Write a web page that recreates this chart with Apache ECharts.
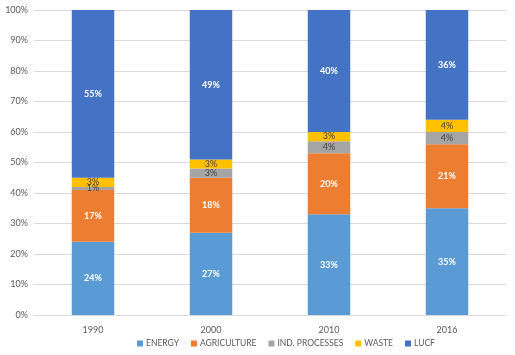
<!DOCTYPE html>
<html><head><meta charset="utf-8">
<script src="https://cdn.jsdelivr.net/npm/echarts@6/dist/echarts.min.js"></script>
<style>html,body{margin:0;padding:0;background:#fff}#c{width:515px;height:355px}</style>
</head><body><div id="c"></div>
<script>
var categories = ['1990', '2000', '2010', '2016'];
var energy = [24, 27, 33, 35];
var agriculture = [17, 18, 20, 21];
var indProcesses = [1, 3, 4, 4];
var waste = [3, 3, 3, 4];
var lucf = [55, 49, 40, 36];
var yTicks = [0, 10, 20, 30, 40, 50, 60, 70, 80, 90, 100];

var font = 'Lato, "Open Sans", sans-serif';
function mk(name, data, color, labelColor, bold) {
  return {
    name: name, type: 'bar', stack: 's', data: data, barWidth: '36%',
    itemStyle: {color: color},
    label: {show: true, position: 'inside', formatter: '{c}%', color: labelColor,
      fontSize: 9, fontFamily: font, fontWeight: bold ? 'bold' : 'normal'}
  };
}
var chart = echarts.init(document.getElementById('c'));
chart.setOption({
  animation: false,
  grid: {left: 34, right: 9, top: 10, bottom: 40},
  legend: {
    bottom: 2, left: 132, itemWidth: 6, itemHeight: 6, itemGap: 12,
    icon: 'rect',
    textStyle: {fontSize: 8.5, color: '#595959', fontFamily: font, padding: [0, 0, 0, -2]},
    data: ['ENERGY', 'AGRICULTURE', 'IND. PROCESSES', 'WASTE', 'LUCF']
  },
  xAxis: {
    type: 'category', data: categories,
    axisTick: {show: false},
    axisLine: {lineStyle: {color: '#D9D9D9'}},
    axisLabel: {color: '#595959', fontSize: 9, fontFamily: font, margin: 11}
  },
  yAxis: {
    type: 'value', min: 0, max: 100, interval: 10,
    axisLabel: {formatter: function (v) { return yTicks.indexOf(v) >= 0 ? v + '%' : ''; },
      color: '#595959', fontSize: 9, fontFamily: font, margin: 6},
    splitLine: {lineStyle: {color: '#D9D9D9'}},
    axisLine: {show: false}, axisTick: {show: false}
  },
  series: [
    mk('ENERGY', energy, '#5B9BD5', '#ffffff', true),
    mk('AGRICULTURE', agriculture, '#ED7D31', '#ffffff', true),
    mk('IND. PROCESSES', indProcesses, '#A5A5A5', '#404040', false),
    mk('WASTE', waste, '#FFC000', '#404040', false),
    mk('LUCF', lucf, '#4472C4', '#ffffff', true)
  ]
});
</script></body></html>
